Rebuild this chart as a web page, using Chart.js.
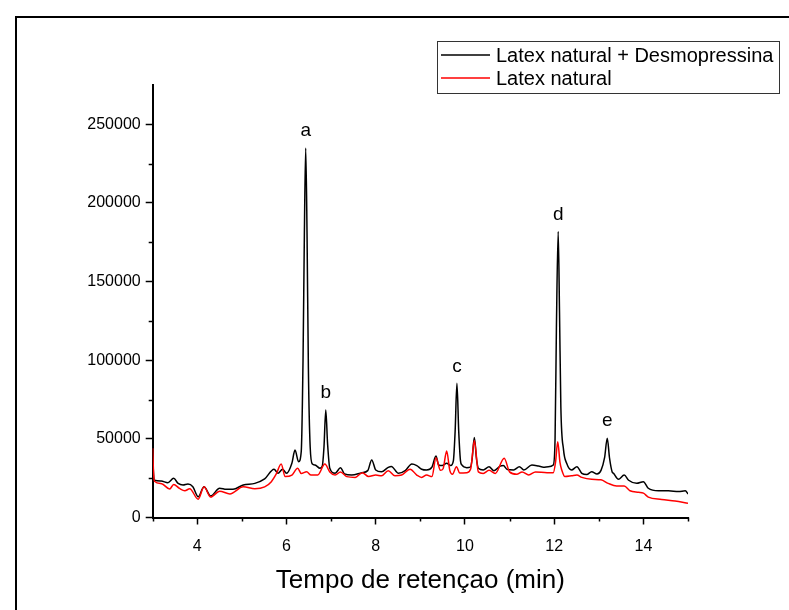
<!DOCTYPE html>
<html>
<head>
<meta charset="utf-8">
<script src="https://cdn.jsdelivr.net/npm/chart.js@4"></script>
<style>
  html, body { margin: 0; padding: 0; background: #fff; }
  #wrap { width: 789px; height: 610px; }
</style>
</head>
<body>
<div id="wrap"><canvas id="chromatogram"></canvas></div>
<script>
// Latex natural + Desmopressina (black trace)
const blackTime = [
    3.00, 3.02, 3.04, 3.19, 3.34, 3.47, 3.57, 3.68, 3.79, 3.90,
    4.02, 4.15, 4.30, 4.50, 4.65, 4.80, 5.03, 5.29, 5.51, 5.72,
    5.81, 5.91, 6.00, 6.12, 6.19, 6.27, 6.33, 6.37, 6.40, 6.43,
    6.46, 6.49, 6.53, 6.58, 6.64, 6.75, 6.80, 6.84, 6.88, 6.92,
    6.97, 7.09, 7.21, 7.30, 7.46, 7.69, 7.82, 7.91, 8.00, 8.13,
    8.28, 8.35, 8.51, 8.66, 8.81, 8.92, 9.03, 9.14, 9.26, 9.35,
    9.41, 9.49, 9.59, 9.68, 9.74, 9.78, 9.82, 9.86, 9.90, 9.93,
    10.04, 10.12, 10.16, 10.21, 10.26, 10.30, 10.41, 10.54, 10.65, 10.79,
    10.86, 10.95, 11.09, 11.22, 11.32, 11.50, 11.65, 11.76, 11.87, 11.98,
    12.02, 12.05, 12.09, 12.12, 12.15, 12.21, 12.28, 12.39, 12.51, 12.62,
    12.73, 12.84, 12.96, 13.05, 13.13, 13.19, 13.24, 13.30, 13.33, 13.44,
    13.57, 13.67, 13.85, 14.00, 14.11, 14.34, 14.56, 14.79, 14.94, 15.00
];
const blackSignal = [
    40000, 27000, 23800, 23200, 22100, 24900, 21700, 20700, 21300, 19600,
    13200, 19600, 13700, 18600, 17900, 17900, 20700, 21700, 24500, 30700,
    28100, 30700, 28100, 34500, 42900, 35500, 42000, 100000, 180000, 235000,
    180000, 95000, 45000, 34000, 33400, 31300, 32500, 45000, 68400, 47000,
    31300, 28100, 31700, 27700, 27000, 28500, 29800, 36600, 30200, 29100,
    31900, 32500, 28100, 29800, 34000, 33000, 30700, 30200, 32000, 39100,
    33400, 33000, 34500, 33000, 36000, 55000, 85300, 55000, 36000, 33400,
    31700, 32000, 37000, 50800, 37000, 31300, 30200, 32300, 29800, 32700,
    33000, 30500, 30200, 32300, 30200, 33400, 32700, 32000, 32300, 33400,
    50000, 120000, 181800, 130000, 70000, 43000, 34500, 30200, 32300, 28100,
    27300, 29100, 27700, 30000, 38000, 50400, 38000, 29000, 28100, 24300,
    27000, 23700, 21700, 22800, 18600, 17000, 17000, 16500, 17000, 15000
];

// Latex natural (red trace)
const redTime = [
    3.00, 3.02, 3.04, 3.20, 3.38, 3.47, 3.60, 3.72, 3.83, 4.02,
    4.15, 4.30, 4.50, 4.73, 5.03, 5.29, 5.51, 5.66, 5.77, 5.88,
    5.97, 6.12, 6.25, 6.33, 6.45, 6.55, 6.70, 6.86, 6.97, 7.09,
    7.21, 7.35, 7.54, 7.70, 7.84, 8.00, 8.13, 8.28, 8.43, 8.58,
    8.77, 8.92, 9.03, 9.14, 9.26, 9.35, 9.45, 9.51, 9.59, 9.66,
    9.72, 9.81, 9.88, 10.04, 10.13, 10.21, 10.30, 10.41, 10.54, 10.68,
    10.88, 11.00, 11.16, 11.28, 11.43, 11.58, 11.84, 11.98, 12.03, 12.08,
    12.13, 12.17, 12.24, 12.39, 12.51, 12.62, 12.84, 13.05, 13.21, 13.40,
    13.57, 13.70, 13.89, 14.00, 14.11, 14.41, 14.71, 15.00
];
const redSignal = [
    44000, 28000, 23000, 21500, 18100, 21000, 18500, 17000, 18300, 11600,
    19500, 13000, 16700, 15000, 19500, 18300, 19500, 22800, 27700, 34000,
    26000, 27000, 31300, 28000, 29100, 27000, 27000, 34000, 29000, 27000,
    29000, 26000, 25500, 28500, 26000, 27000, 26500, 29800, 26500, 27000,
    30700, 27000, 25500, 27000, 26000, 38000, 30000, 31000, 42300, 30000,
    27500, 32300, 28300, 28500, 31000, 49000, 29000, 28000, 30000, 28000,
    37700, 29000, 27500, 29000, 27000, 29000, 28500, 28500, 35000, 48200,
    35000, 30200, 26000, 26500, 27000, 25500, 24300, 24000, 21700, 20000,
    20000, 17000, 16000, 15500, 13000, 11500, 10500, 9000
];

// peak annotations
const peakNames = ['a', 'b', 'c', 'd', 'e'];
const peakTimes = [6.43, 6.88, 9.82, 12.09, 13.19];
const peakHeights = [235000, 68400, 85300, 181800, 50400];

const FONT = '"Liberation Sans", Arial, sans-serif';

function toPoints(xs, ys) {
    return xs.map((x, i) => ({x: x, y: ys[i]}));
}

const extras = {
    id: 'extras',
    afterDraw(chart) {
        const ctx = chart.ctx;
        const xs = chart.scales.x;
        const ys = chart.scales.y;
        const area = chart.chartArea;
        ctx.save();

        // outer frame
        ctx.strokeStyle = '#000';
        ctx.lineWidth = 2;
        ctx.strokeRect(16, 17, 800, 620);

        // minor ticks
        ctx.lineWidth = 1.5;
        ctx.beginPath();
        xs.ticks.forEach(t => {
            if (t.value % 2 !== 0) {
                const px = Math.round(xs.getPixelForValue(t.value)) + 0.5;
                ctx.moveTo(px, area.bottom);
                ctx.lineTo(px, area.bottom + 4);
            }
        });
        ys.ticks.forEach(t => {
            if (t.value % 50000 !== 0 && t.value < ys.max) {
                const py = Math.round(ys.getPixelForValue(t.value)) + 0.5;
                ctx.moveTo(area.left, py);
                ctx.lineTo(area.left - 4, py);
            }
        });
        ctx.stroke();

        // peak letters
        ctx.fillStyle = '#000';
        ctx.font = '19px ' + FONT;
        ctx.textAlign = 'center';
        ctx.textBaseline = 'middle';
        peakNames.forEach((name, i) => {
            const px = xs.getPixelForValue(peakTimes[i]);
            const py = ys.getPixelForValue(peakHeights[i]);
            ctx.fillText(name, px, py - 17);
        });

        // legend box
        ctx.lineWidth = 1;
        ctx.strokeStyle = '#333';
        ctx.strokeRect(437.5, 41.5, 342, 52);
        ctx.textAlign = 'left';
        ctx.font = '20px ' + FONT;
        const legendOrder = [0, 1];
        legendOrder.forEach((di, row) => {
            const ds = chart.data.datasets[di];
            const cy = 55 + row * 23;
            ctx.strokeStyle = ds.borderColor;
            ctx.lineWidth = 1.5;
            ctx.beginPath();
            ctx.moveTo(441, cy);
            ctx.lineTo(490, cy);
            ctx.stroke();
            ctx.fillStyle = '#000';
            ctx.fillText(ds.label, 496, cy + 1);
        });
        ctx.restore();
    }
};

new Chart(document.getElementById('chromatogram'), {
    type: 'line',
    data: {
        datasets: [{
            label: 'Latex natural + Desmopressina',
            data: toPoints(blackTime, blackSignal),
            borderColor: '#000000',
            order: 2,
        }, {
            label: 'Latex natural',
            data: toPoints(redTime, redSignal),
            borderColor: '#ff0000',
            order: 1,
        }],
    },
    options: {
        responsive: true,
        maintainAspectRatio: false,
        animation: false,
        layout: {
            padding: {top: 85, right: 101, bottom: 0, left: 0},
        },
        elements: {
            point: {radius: 0},
            line: {
                borderWidth: 1.5,
                cubicInterpolationMode: 'monotone',
                fill: false,
            },
        },
        scales: {
            x: {
                type: 'linear',
                min: 3,
                max: 15,
                afterFit: s => { s.height = 92.5; },
                border: {display: true, color: '#000', width: 2},
                grid: {
                    drawOnChartArea: false,
                    tickLength: 7,
                    tickWidth: 1.5,
                    tickColor: c => (c.tick && c.tick.value % 2 === 0) ? '#000' : 'rgba(0,0,0,0)',
                },
                ticks: {
                    stepSize: 1,
                    autoSkip: false,
                    maxRotation: 0,
                    padding: 12,
                    color: '#000',
                    font: {family: FONT, size: 16},
                    callback: v => (v % 2 === 0 ? String(v) : ''),
                },
                title: {
                    display: true,
                    text: 'Tempo de retençao (min)',
                    color: '#000',
                    font: {family: FONT, size: 26},
                    padding: {top: 0, bottom: 14},
                },
            },
            y: {
                min: 0,
                max: 275000,
                afterFit: s => { s.width = 152.7; },
                border: {display: true, color: '#000', width: 2},
                grid: {
                    drawOnChartArea: false,
                    tickLength: 7,
                    tickWidth: 1.5,
                    tickColor: c => (c.tick && c.tick.value % 50000 === 0) ? '#000' : 'rgba(0,0,0,0)',
                },
                ticks: {
                    stepSize: 25000,
                    autoSkip: false,
                    padding: 5,
                    color: '#000',
                    font: {family: FONT, size: 16},
                    callback: v => (v % 50000 === 0 ? String(v) : ''),
                },
            },
        },
        plugins: {
            legend: {display: false},
            tooltip: {enabled: false},
        },
    },
    plugins: [extras],
});
</script>
</body>
</html>
